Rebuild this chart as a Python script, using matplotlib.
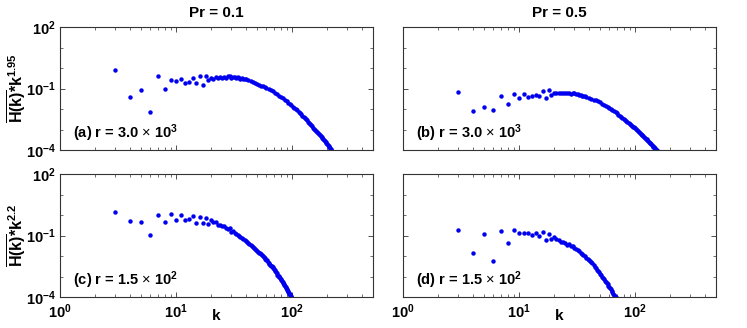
import matplotlib
matplotlib.use("Agg")
import matplotlib.pyplot as plt
from matplotlib.ticker import LogLocator, NullFormatter

plt.rcParams['font.family'] = ['Liberation Sans', 'DejaVu Sans']
plt.rcParams['mathtext.fontset'] = 'custom'
plt.rcParams['mathtext.rm'] = 'Liberation Sans'
plt.rcParams['mathtext.bf'] = 'Liberation Sans:bold'
plt.rcParams['mathtext.it'] = 'Liberation Sans:italic'

# ---- panel (a): Pr = 0.1, r = 3.0e3 ----
k_a = [3, 4, 5, 6, 7, 8, 9, 10, 11, 12, 13, 14, 15, 16, 17, 18, 19, 20, 21, 22,
       23, 24, 25, 26, 27, 28, 29, 30, 31, 32, 33, 34, 35, 36, 37, 38, 39, 40,
       42, 44, 46, 48, 50, 52, 54, 56, 58, 60, 63, 66, 69, 72, 75, 78, 81, 84,
       87, 90, 93, 96, 99, 102, 105, 108, 111, 114, 117, 120, 123, 126, 129,
       132, 135, 138, 141, 144, 147, 150, 153, 156, 159, 162, 165, 168, 171,
       174, 177, 180, 183, 186, 189, 192, 195, 198, 201, 204, 207, 210, 213,
       216, 219, 222]
h_a = [0.79, 0.037, 0.085, 0.0069, 0.41, 0.091, 0.27, 0.24, 0.29, 0.18, 0.21,
       0.32, 0.19, 0.43, 0.15, 0.41, 0.25, 0.34, 0.29, 0.38, 0.32, 0.36, 0.34,
       0.36, 0.32, 0.43, 0.40, 0.34, 0.38, 0.37, 0.33, 0.35, 0.33, 0.30, 0.31,
       0.30, 0.29, 0.28, 0.25, 0.225, 0.20, 0.183, 0.166, 0.152, 0.139, 0.128,
       0.119, 0.110, 0.095, 0.082, 0.072, 0.062, 0.0525, 0.045, 0.0387, 0.0327,
       0.0277, 0.024, 0.0207, 0.0179, 0.0155, 0.01324, 0.01146, 0.00984,
       0.00847, 0.00728, 0.00632, 0.0055, 0.00474, 0.00414, 0.00357, 0.00313,
       0.00276, 0.00239, 0.00209, 0.00184, 0.00161, 0.00141, 0.00123, 0.00108,
       0.000957, 0.000832, 0.000746, 0.00066, 0.000583, 0.000516, 0.000463,
       0.000417, 0.000375, 0.000333, 0.000304, 0.000274, 0.000247, 0.000222,
       0.0002, 0.000177, 0.000159, 0.000143, 0.000129, 0.000115, 0.000104,
       0.000093]

# ---- panel (b): Pr = 0.5, r = 3.0e3 ----
k_b = [3, 4, 5, 6, 7, 8, 9, 10, 11, 12, 13, 14, 15, 16, 17, 18, 19, 20, 21, 22,
       23, 24, 25, 26, 27, 28, 29, 30, 31, 32, 33, 34, 35, 36, 37, 38, 40, 42,
       44, 46, 48, 50, 52, 54, 56, 58, 60, 62, 64, 66, 68, 70, 72, 74, 76, 78,
       80, 82, 84, 86, 88, 90, 92, 94, 96, 98, 100, 102, 104, 106, 108, 110,
       112, 114, 116, 118, 120, 122, 124, 126, 128, 130, 132, 134, 136, 138,
       140, 142, 144, 146, 148, 150, 152, 154]
h_b = [0.067, 0.0083, 0.0126, 0.0085, 0.045, 0.018, 0.054, 0.035, 0.054, 0.040,
       0.043, 0.046, 0.041, 0.079, 0.033, 0.085, 0.050, 0.059, 0.060, 0.059,
       0.062, 0.059, 0.060, 0.0575, 0.062, 0.056, 0.060, 0.0575, 0.052, 0.052,
       0.0495, 0.0474, 0.0453, 0.0434, 0.0416, 0.0398, 0.0356, 0.0321, 0.029,
       0.0262, 0.024, 0.0213, 0.0185, 0.0163, 0.0143, 0.0126, 0.0112, 0.010,
       0.0089, 0.00776, 0.00681, 0.00604, 0.00536, 0.00475, 0.00422, 0.00378,
       0.00338, 0.00303, 0.00272, 0.00243, 0.00216, 0.00193, 0.00172, 0.00155,
       0.0014, 0.00126, 0.00114, 0.00102, 0.00093, 0.00085, 0.00078, 0.0007,
       0.00063, 0.00057, 0.00052, 0.00047, 0.00043, 0.000394, 0.00036,
       0.000329, 0.0003, 0.000275, 0.000251, 0.00023, 0.000208, 0.000191,
       0.000175, 0.000161, 0.000148, 0.000135, 0.000124, 0.000114, 0.000104,
       0.000095]

# ---- panel (c): Pr = 0.1, r = 1.5e2 ----
k_c = list(range(3, 101))
h_c = [1.45, 0.52, 0.44, 0.105, 1.02, 0.47, 1.12, 0.58, 0.95, 0.59, 0.66, 0.85,
       0.42, 0.83, 0.41, 0.69, 0.38, 0.58, 0.44, 0.44, 0.34, 0.32, 0.28, 0.30,
       0.24, 0.21, 0.24, 0.148, 0.166, 0.129, 0.115, 0.103, 0.091, 0.0817,
       0.0731, 0.0655, 0.0592, 0.0535, 0.0479, 0.0427, 0.0381, 0.034, 0.0303,
       0.027, 0.0244, 0.022, 0.0199, 0.0179, 0.0162, 0.0148, 0.0135, 0.0121,
       0.0109, 0.00984, 0.00887, 0.0081, 0.0073, 0.00665, 0.00604, 0.00537,
       0.00479, 0.00428, 0.00382, 0.00341, 0.0031, 0.00277, 0.00251, 0.00224,
       0.00199, 0.00177, 0.00158, 0.00141, 0.00125, 0.00111, 0.00101, 0.0009,
       0.0008, 0.000728, 0.00066, 0.000587, 0.000533, 0.000468, 0.00042,
       0.000378, 0.000332, 0.000305, 0.000274, 0.000246, 0.000221, 0.000199,
       0.000182, 0.000164, 0.000147, 0.000135, 0.000121, 0.000111, 0.0001,
       0.000091]

# ---- panel (d): Pr = 0.5, r = 1.5e2 ----
k_d = list(range(3, 69))
h_d = [0.19, 0.014, 0.115, 0.0058, 0.17, 0.043, 0.178, 0.129, 0.129, 0.138,
       0.102, 0.138, 0.095, 0.148, 0.060, 0.123, 0.069, 0.087, 0.069, 0.063,
       0.048, 0.047, 0.045, 0.035, 0.038, 0.0316, 0.031, 0.0251, 0.0225,
       0.0193, 0.0166, 0.0145, 0.0126, 0.0109, 0.00946, 0.0082, 0.0072, 0.0063,
       0.00553, 0.00491, 0.00437, 0.00365, 0.00305, 0.00255, 0.00217, 0.00185,
       0.00157, 0.00133, 0.00114, 0.00098, 0.000845, 0.000731, 0.000631,
       0.000546, 0.000472, 0.000416, 0.00036, 0.000316, 0.000272, 0.000233,
       0.0002, 0.000173, 0.000148, 0.000127, 0.000112, 0.000096]

titles = ['Pr = 0.1', 'Pr = 0.5']
ylabels = [r'$\overline{\mathbf{H(k)}}\mathbf{*k^{1.95}}$',
           r'$\overline{\mathbf{H(k)}}\mathbf{*k^{2.2}}$']
annots = [r'(a) r = 3.0 $\times$ 10$^{\mathbf{3}}$', r'(b) r = 3.0 $\times$ 10$^{\mathbf{3}}$',
          r'(c) r = 1.5 $\times$ 10$^{\mathbf{2}}$', r'(d) r = 1.5 $\times$ 10$^{\mathbf{2}}$']
yticks = [1e-4, 1e-1, 1e2]
ytick_labels = [r'$\mathbf{10^{-4}}$', r'$\mathbf{10^{-1}}$', r'$\mathbf{10^{2}}$']
xticks = [1, 10, 100]
xtick_labels = [r'$\mathbf{10^{0}}$', r'$\mathbf{10^{1}}$', r'$\mathbf{10^{2}}$']

data = [(k_a, h_a), (k_b, h_b), (k_c, h_c), (k_d, h_d)]

fig = plt.figure(figsize=(7.47, 3.28), dpi=100)
lefts = [60 / 747, 403 / 747]
width = 313 / 747
bottoms = [1 - 150 / 328, 1 - 297 / 328]
height = 123 / 328

for i, (kk, hh) in enumerate(data):
    row, col = divmod(i, 2)
    ax = fig.add_axes([lefts[col], bottoms[row], width, height])
    ax.plot(kk, hh, linestyle='none', marker='o', ms=3.2, mec='none', color='#0000ee')
    ax.set_xscale('log')
    ax.set_yscale('log')
    ax.set_xlim(1, 500)
    ax.set_ylim(1e-4, 1e2)
    ax.set_yticks(yticks)
    ax.yaxis.set_minor_locator(LogLocator(base=10, subs=[], numticks=10))
    ax.yaxis.set_minor_formatter(NullFormatter())
    ax.set_xticks(xticks)
    ax.xaxis.set_minor_locator(LogLocator(base=10, subs=range(2, 10), numticks=10))
    ax.xaxis.set_minor_formatter(NullFormatter())
    ax.tick_params(which='both', direction='in', top=True, right=True,
                   labelsize=10.5, color='#333333')
    ax.tick_params(axis='y', pad=3)
    ax.tick_params(axis='x', pad=4)
    ax.tick_params(which='major', length=3.5, width=0.6)
    ax.tick_params(which='minor', length=2, width=0.5)
    for s in ax.spines.values():
        s.set_color('#333333')
        s.set_linewidth(0.8)
    if col == 0:
        ax.set_yticklabels(ytick_labels)
        ax.set_ylabel(ylabels[row], fontsize=11.5)
        ax.yaxis.set_label_coords(-0.1, 0.5)
    else:
        ax.set_yticklabels([])
    if row == 1:
        ax.set_xticklabels(xtick_labels)
        ax.set_xlabel('k', fontsize=11, fontweight='bold')
        ax.xaxis.set_label_coords(0.5, -0.1)
    else:
        ax.set_xticklabels([])
        ax.set_title(titles[col], fontsize=11, fontweight='bold', pad=7)
    ax.text(0.04, 0.1, annots[i], transform=ax.transAxes, fontsize=10.5,
            fontweight='bold', va='baseline', ha='left')

fig.savefig('out.png', dpi=100)
